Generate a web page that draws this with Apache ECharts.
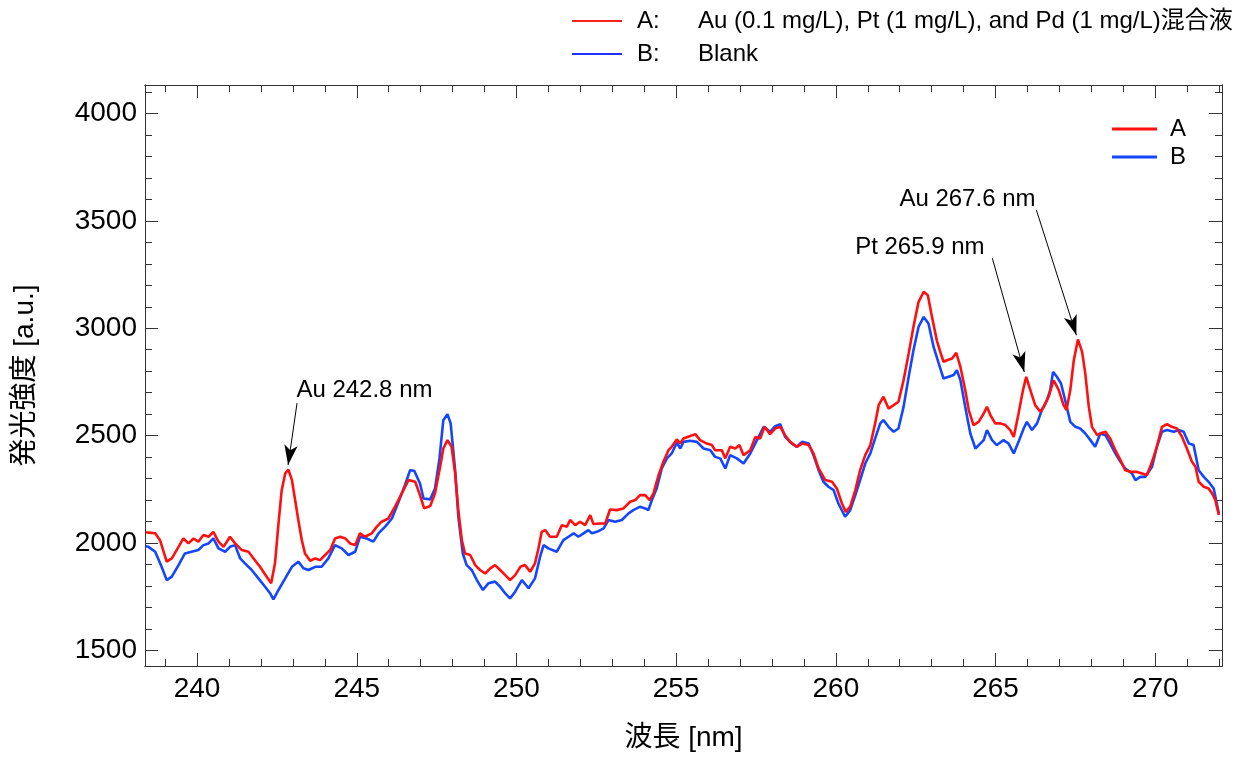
<!DOCTYPE html>
<html lang="ja">
<head>
    <meta charset="UTF-8">
    <title>発光スペクトル</title>
    <script src="https://cdn.jsdelivr.net/npm/echarts@6.0.0/dist/echarts.min.js"></script>
    <style type="text/css">
        * { margin: 0; padding: 0; }
        html, body { width: 100%; height: 100%; background: #fff; }
        #main { width: 1237px; height: 757px; }
    </style>
</head>
<body>
<div id="main"></div>
<script type="text/javascript">
    // 試料A（混合液）のスペクトル
    var redX = [238.40, 238.48, 238.69, 238.84, 239.05, 239.21, 239.42, 239.57, 239.73, 239.89,
        240.04, 240.20, 240.36, 240.51, 240.67, 240.83, 241.03, 241.19, 241.40, 241.61,
        241.77, 241.97, 242.18, 242.32, 242.44, 242.55, 242.65, 242.76, 242.86, 242.97,
        243.07, 243.17, 243.28, 243.38, 243.54, 243.70, 243.85, 244.01, 244.17, 244.32,
        244.48, 244.64, 244.79, 244.95, 245.10, 245.26, 245.47, 245.63, 245.78, 245.99,
        246.20, 246.41, 246.62, 246.83, 246.98, 247.11, 247.30, 247.45, 247.61, 247.71,
        247.84, 247.97, 248.08, 248.18, 248.29, 248.39, 248.55, 248.71, 248.86, 249.02,
        249.18, 249.33, 249.49, 249.65, 249.80, 249.96, 250.12, 250.27, 250.43, 250.58,
        250.69, 250.79, 250.90, 251.05, 251.26, 251.42, 251.58, 251.68, 251.84, 251.99,
        252.15, 252.31, 252.41, 252.62, 252.78, 252.93, 253.14, 253.35, 253.56, 253.72,
        253.87, 254.03, 254.17, 254.29, 254.45, 254.60, 254.76, 254.86, 255.02, 255.13,
        255.23, 255.44, 255.60, 255.75, 255.96, 256.12, 256.22, 256.43, 256.54, 256.69,
        256.85, 256.98, 257.11, 257.32, 257.48, 257.63, 257.77, 257.94, 258.10, 258.26,
        258.41, 258.57, 258.78, 258.94, 259.15, 259.30, 259.46, 259.67, 259.88, 260.03,
        260.19, 260.31, 260.45, 260.61, 260.76, 260.92, 261.08, 261.23, 261.34, 261.49,
        261.65, 261.81, 261.96, 262.12, 262.28, 262.43, 262.59, 262.75, 262.88, 263.01,
        263.16, 263.27, 263.37, 263.48, 263.64, 263.77, 263.90, 264.05, 264.16, 264.31,
        264.47, 264.63, 264.73, 264.84, 264.99, 265.15, 265.31, 265.46, 265.57, 265.72,
        265.86, 265.96, 266.09, 266.24, 266.40, 266.51, 266.66, 266.82, 266.98, 267.13,
        267.22, 267.34, 267.45, 267.58, 267.71, 267.81, 267.92, 268.02, 268.18, 268.28,
        268.44, 268.59, 268.75, 268.91, 269.06, 269.27, 269.43, 269.59, 269.74, 269.90,
        270.05, 270.21, 270.37, 270.52, 270.68, 270.84, 270.99, 271.15, 271.26, 271.36,
        271.52, 271.67, 271.78, 271.88, 271.99];
    var redY = [2050, 2048, 2045, 2013, 1913, 1928, 1982, 2021, 1998, 2021,
        2006, 2037, 2029, 2052, 2006, 1982, 2029, 1998, 1967, 1959,
        1928, 1889, 1843, 1812, 1905, 2091, 2246, 2324, 2342, 2293,
        2200, 2107, 2013, 1951, 1917, 1928, 1920, 1944, 1967, 2021,
        2029, 2021, 1998, 1990, 2045, 2029, 2045, 2076, 2099, 2114,
        2169, 2231, 2293, 2285, 2223, 2161, 2172, 2231, 2355, 2440,
        2479, 2448, 2324, 2153, 2013, 1951, 1944, 1897, 1874, 1858,
        1882, 1897, 1874, 1850, 1827, 1850, 1889, 1897, 1866, 1905,
        1975, 2052, 2060, 2029, 2029, 2083, 2076, 2107, 2083, 2099,
        2083, 2130, 2088, 2091, 2091, 2156, 2153, 2161, 2192, 2200,
        2223, 2223, 2200, 2231, 2316, 2378, 2432, 2448, 2482, 2464,
        2487, 2498, 2507, 2479, 2463, 2456, 2432, 2432, 2394, 2448,
        2440, 2456, 2409, 2432, 2494, 2487, 2541, 2507, 2533, 2541,
        2502, 2471, 2448, 2463, 2456, 2417, 2347, 2293, 2285, 2254,
        2184, 2145, 2169, 2246, 2339, 2409, 2456, 2557, 2642, 2681,
        2626, 2642, 2658, 2758, 2882, 3007, 3123, 3170, 3154, 3053,
        2944, 2890, 2844, 2851, 2859, 2886, 2820, 2712, 2619, 2549,
        2564, 2603, 2634, 2595, 2557, 2557, 2549, 2526, 2494, 2603,
        2712, 2774, 2712, 2642, 2611, 2634, 2681, 2758, 2712, 2642,
        2619, 2712, 2851, 2948, 2890, 2789, 2634, 2541, 2502, 2510,
        2518, 2487, 2432, 2386, 2339, 2331, 2331, 2324, 2316, 2378,
        2448, 2541, 2553, 2541, 2533, 2494, 2440, 2378, 2355, 2285,
        2262, 2254, 2231, 2200, 2130];

    // ブランクBのスペクトル
    var blueX = [238.40, 238.48, 238.69, 238.89, 239.05, 239.21, 239.42, 239.62, 239.83, 240.04,
        240.20, 240.36, 240.51, 240.67, 240.88, 241.03, 241.19, 241.35, 241.50, 241.71,
        241.92, 242.13, 242.29, 242.39, 242.55, 242.76, 242.97, 243.17, 243.33, 243.49,
        243.70, 243.90, 244.11, 244.32, 244.53, 244.74, 244.95, 245.10, 245.31, 245.52,
        245.68, 245.89, 246.10, 246.31, 246.51, 246.67, 246.80, 246.98, 247.09, 247.30,
        247.45, 247.59, 247.71, 247.84, 247.94, 248.08, 248.18, 248.32, 248.44, 248.60,
        248.76, 248.95, 249.12, 249.33, 249.49, 249.65, 249.80, 249.96, 250.17, 250.38,
        250.58, 250.74, 250.85, 251.00, 251.26, 251.47, 251.63, 251.79, 251.94, 252.10,
        252.25, 252.36, 252.52, 252.73, 252.88, 253.09, 253.30, 253.51, 253.66, 253.87,
        254.03, 254.13, 254.24, 254.39, 254.55, 254.71, 254.86, 255.02, 255.13, 255.23,
        255.44, 255.65, 255.86, 256.07, 256.22, 256.38, 256.54, 256.69, 256.90, 257.11,
        257.32, 257.53, 257.74, 257.94, 258.10, 258.26, 258.41, 258.62, 258.78, 258.94,
        259.15, 259.30, 259.46, 259.61, 259.77, 259.93, 260.08, 260.29, 260.45, 260.61,
        260.76, 260.92, 261.08, 261.23, 261.39, 261.49, 261.65, 261.81, 261.96, 262.12,
        262.28, 262.43, 262.59, 262.75, 262.90, 263.06, 263.27, 263.37, 263.53, 263.69,
        263.79, 263.90, 264.05, 264.21, 264.37, 264.52, 264.63, 264.73, 264.89, 265.04,
        265.25, 265.41, 265.57, 265.72, 265.88, 265.98, 266.14, 266.30, 266.45, 266.61,
        266.71, 266.80, 266.92, 267.05, 267.18, 267.34, 267.50, 267.65, 267.81, 267.97,
        268.12, 268.28, 268.44, 268.59, 268.75, 268.91, 269.06, 269.27, 269.38, 269.53,
        269.69, 269.90, 270.05, 270.21, 270.37, 270.58, 270.73, 270.89, 271.05, 271.20,
        271.36, 271.52, 271.67, 271.83, 271.99];
    var blueY = [1985, 1982, 1959, 1889, 1827, 1843, 1897, 1951, 1959, 1967,
        1990, 1998, 2021, 1975, 1959, 1982, 1990, 1928, 1905, 1874,
        1835, 1796, 1765, 1737, 1781, 1835, 1889, 1913, 1882, 1874,
        1889, 1889, 1928, 1990, 1975, 1944, 1959, 2029, 2021, 2006,
        2045, 2076, 2114, 2192, 2270, 2339, 2336, 2277, 2207, 2203,
        2254, 2394, 2572, 2600, 2557, 2339, 2122, 1951, 1897, 1874,
        1827, 1781, 1812, 1820, 1796, 1765, 1742, 1773, 1827, 1789,
        1835, 1936, 1990, 1975, 1959, 2013, 2029, 2045, 2029, 2045,
        2060, 2045, 2052, 2068, 2107, 2099, 2107, 2138, 2153, 2169,
        2161, 2153, 2200, 2254, 2347, 2394, 2417, 2467, 2440, 2471,
        2476, 2471, 2440, 2432, 2401, 2394, 2347, 2409, 2394, 2370,
        2417, 2479, 2541, 2518, 2544, 2553, 2494, 2463, 2448, 2471,
        2463, 2409, 2339, 2285, 2262, 2246, 2184, 2122, 2153, 2223,
        2293, 2370, 2417, 2487, 2557, 2572, 2541, 2518, 2533, 2634,
        2774, 2898, 3007, 3053, 3022, 2913, 2813, 2766, 2774, 2782,
        2805, 2758, 2634, 2510, 2440, 2463, 2479, 2526, 2479, 2456,
        2479, 2463, 2417, 2471, 2533, 2564, 2526, 2557, 2619, 2665,
        2712, 2797, 2774, 2743, 2665, 2564, 2541, 2533, 2510, 2479,
        2448, 2510, 2502, 2463, 2417, 2378, 2347, 2324, 2293, 2308,
        2308, 2355, 2448, 2518, 2526, 2518, 2526, 2518, 2463, 2456,
        2339, 2308, 2285, 2254, 2138];

    // 目盛
    var xMajor = [240, 245, 250, 255, 260, 265, 270];
    var xMinor = [239, 241, 242, 243, 244, 246, 247, 248, 249, 251, 252, 253, 254, 256, 257, 258, 259,
        261, 262, 263, 264, 266, 267, 268, 269, 271, 272];
    var yMajor = [1500, 2000, 2500, 3000, 3500, 4000];
    var yMinor = [1600, 1700, 1800, 1900, 2100, 2200, 2300, 2400, 2600, 2700, 2800, 2900,
        3100, 3200, 3300, 3400, 3600, 3700, 3800, 3900, 4100];

    var seriesNames = ['A', 'B'];
    var seriesDesc = ['Au (0.1 mg/L), Pt (1 mg/L), and Pd (1 mg/L)混合液', 'Blank'];

    // 注記: [文字, 文字位置x, 文字位置y, 矢印始点x, 始点y, 先端x, 先端y]
    var notes = [
        ['Au 242.8 nm', 245.24, 2712, 243.13, 2651, 242.85, 2363],
        ['Pt 265.9 nm', 262.63, 3377, 264.90, 3326, 265.90, 2796],
        ['Au 267.6 nm', 264.12, 3601, 266.28, 3550, 267.53, 2968]
    ];

    var FONT = "'Liberation Sans', Arial, 'Noto Sans CJK JP', sans-serif";
    var axisColor = '#333';

    function zip(xs, ys) {
        return xs.map(function (x, i) { return [x, ys[i]]; });
    }

    function plain(v) {
        return String(v);
    }

    function xAx(pos, ticks, len, showLabel) {
        return {
            type: 'value', position: pos, min: 238.37, max: 272.09,
            axisLine: {show: true, onZero: false, lineStyle: {color: axisColor, width: 1}},
            axisTick: {show: true, inside: true, length: len, customValues: ticks, lineStyle: {color: axisColor, width: 1}},
            axisLabel: {show: showLabel, customValues: ticks, formatter: plain, fontSize: 28, color: '#000', fontFamily: FONT, margin: 9},
            splitLine: {show: false}
        };
    }

    function yAx(pos, ticks, len, showLabel) {
        return {
            type: 'value', position: pos, min: 1427, max: 4133,
            axisLine: {show: true, onZero: false, lineStyle: {color: axisColor, width: 1}},
            axisTick: {show: true, inside: true, length: len, customValues: ticks, lineStyle: {color: axisColor, width: 1}},
            axisLabel: {show: showLabel, customValues: ticks, formatter: plain, fontSize: 28, color: '#000', fontFamily: FONT, margin: 8},
            splitLine: {show: false}
        };
    }

    var xAxes = [xAx('bottom', xMajor, 13, true), xAx('bottom', xMinor, 7, false),
        xAx('top', xMajor, 13, false), xAx('top', xMinor, 7, false)];
    xAxes[0].name = '波長 [nm]';
    xAxes[0].nameLocation = 'middle';
    xAxes[0].nameGap = 58;
    xAxes[0].nameTextStyle = {fontSize: 28, color: '#000', fontFamily: FONT};

    var yAxes = [yAx('left', yMajor, 13, true), yAx('left', yMinor, 7, false),
        yAx('right', yMajor, 13, false), yAx('right', yMinor, 7, false)];
    yAxes[0].name = '発光強度 [a.u.]';
    yAxes[0].nameLocation = 'middle';
    yAxes[0].nameGap = 106;
    yAxes[0].nameTextStyle = {fontSize: 28, color: '#000', fontFamily: FONT};

    var myChart = echarts.init(document.getElementById('main'));

    var option = {
        animation: false,
        backgroundColor: '#fff',
        grid: {left: 145, right: 15, top: 85, bottom: 91},
        xAxis: xAxes,
        yAxis: yAxes,
        legend: [{
            data: [{name: 'A', itemStyle: {color: '#ff2020'}}, {name: 'B', itemStyle: {color: '#2030ff'}}],
            orient: 'vertical', left: 567, top: 4, icon: 'rect', itemWidth: 50, itemHeight: 2, itemGap: 9,
            selectedMode: false,
            formatter: function (name) {
                return '{k|' + name + ':}{v|' + seriesDesc[seriesNames.indexOf(name)] + '}';
            },
            textStyle: {
                color: '#000', fontSize: 24, fontFamily: FONT, padding: [0, 0, 0, 10],
                rich: {k: {width: 61, fontSize: 24, fontFamily: FONT}, v: {fontSize: 24, fontFamily: FONT}}
            }
        }, {
            data: seriesNames,
            orient: 'vertical', left: 1107, top: 112, icon: 'rect', itemWidth: 45, itemHeight: 3, itemGap: 4,
            selectedMode: false,
            textStyle: {color: '#000', fontSize: 24, fontFamily: FONT, padding: [0, 0, 0, 8]}
        }],
        series: [{
            name: 'A', type: 'line', data: zip(redX, redY), showSymbol: false, symbol: 'none',
            color: '#ff1010', lineStyle: {width: 2.6, color: '#ff1010'}, z: 3,
            markLine: {
                silent: true, symbol: ['none', 'arrow'], symbolSize: [10, 20],
                lineStyle: {color: '#000', width: 1, type: 'solid'}, label: {show: false},
                data: notes.map(function (n) { return [{coord: [n[3], n[4]]}, {coord: [n[5], n[6]]}]; })
            },
            markPoint: {
                silent: true, symbol: 'rect', symbolSize: 1, itemStyle: {color: 'rgba(0,0,0,0)'},
                label: {show: true, position: 'inside', color: '#000', fontSize: 24, fontFamily: FONT},
                data: notes.map(function (n) { return {coord: [n[1], n[2]], value: n[0], label: {formatter: n[0]}}; })
            }
        }, {
            name: 'B', type: 'line', data: zip(blueX, blueY), showSymbol: false, symbol: 'none',
            color: '#1446ff', lineStyle: {width: 2.6, color: '#1446ff'}, z: 2
        }]
    };
    myChart.setOption(option);
</script>
</body>
</html>
